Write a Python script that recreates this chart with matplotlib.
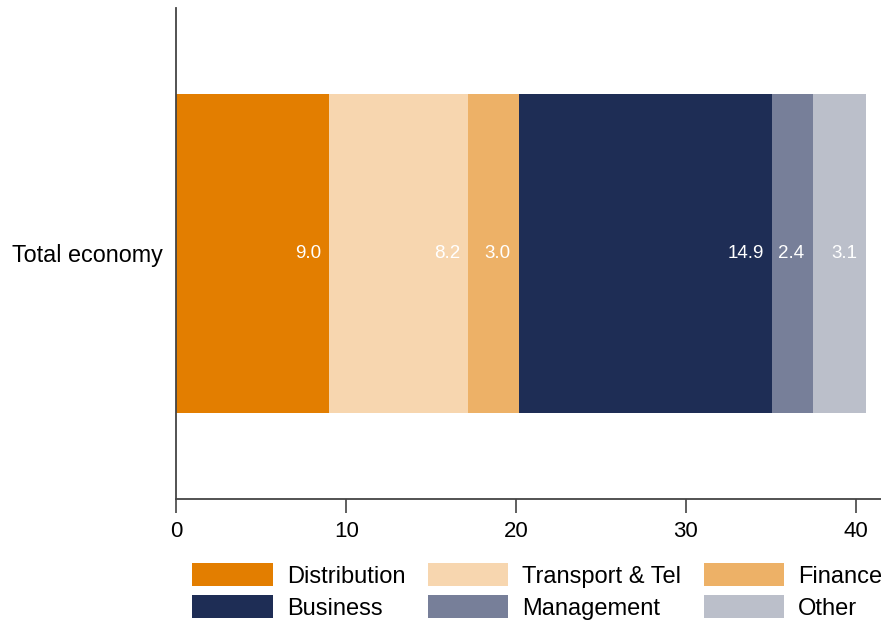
import matplotlib
matplotlib.use('Agg')
import matplotlib.pyplot as plt
import numpy as np

category = 'Total economy'
sectors = ['Distribution', 'Transport & Tel', 'Finance', 'Business', 'Management', 'Other']
values = [9.0, 8.2, 3.0, 14.9, 2.4, 3.1]
colors = ['#E37E00', '#F7D6AF', '#EDB167', '#1E2D55', '#777F99', '#BBBFCA']
xticks = [0, 10, 20, 30, 40]

plt.rcParams['font.family'] = ['Liberation Sans', 'DejaVu Sans']

fig = plt.figure(figsize=(8.81, 6.26), dpi=100)
ax = fig.add_axes([0.2003, 0.2029, 0.7997, 0.7843])

left = 0
handles = []
for name, v, c in zip(sectors, values, colors):
    h = ax.barh(0, v, left=left, height=0.648, color=c, label=name)
    handles.append(h)
    # label sits just inside the right end of its segment
    ax.text(left + v - 0.5, 0, '%.1f' % v, color='white', ha='right', va='center', fontsize=13.5)
    left += v

ax.set_xlim(0, 41.5)
ax.set_ylim(-0.5, 0.5)
ax.set_yticks([0])
ax.set_yticklabels([category], fontsize=16.8)
ax.tick_params(axis='y', length=0, pad=10)
ax.set_xticks(xticks)
ax.tick_params(axis='x', labelsize=16, length=10, width=1.2, color='#444444', pad=6)
for s in ['top', 'right']:
    ax.spines[s].set_visible(False)
for s in ['left', 'bottom']:
    ax.spines[s].set_color('#444444')
    ax.spines[s].set_linewidth(1.3)

# legend filled column-wise, so reorder to read row-wise
order = [0, 3, 1, 4, 2, 5]
leg = fig.legend([handles[i] for i in order], [sectors[i] for i in order],
                 ncol=3, loc='lower left', bbox_to_anchor=(0.197, -0.02),
                 frameon=False, prop={'size': 17},
                 handlelength=3.4, handleheight=1.08, handletextpad=0.6,
                 columnspacing=0.95, labelspacing=0.33, borderpad=0.3)

fig.savefig('out.png', dpi=100)
